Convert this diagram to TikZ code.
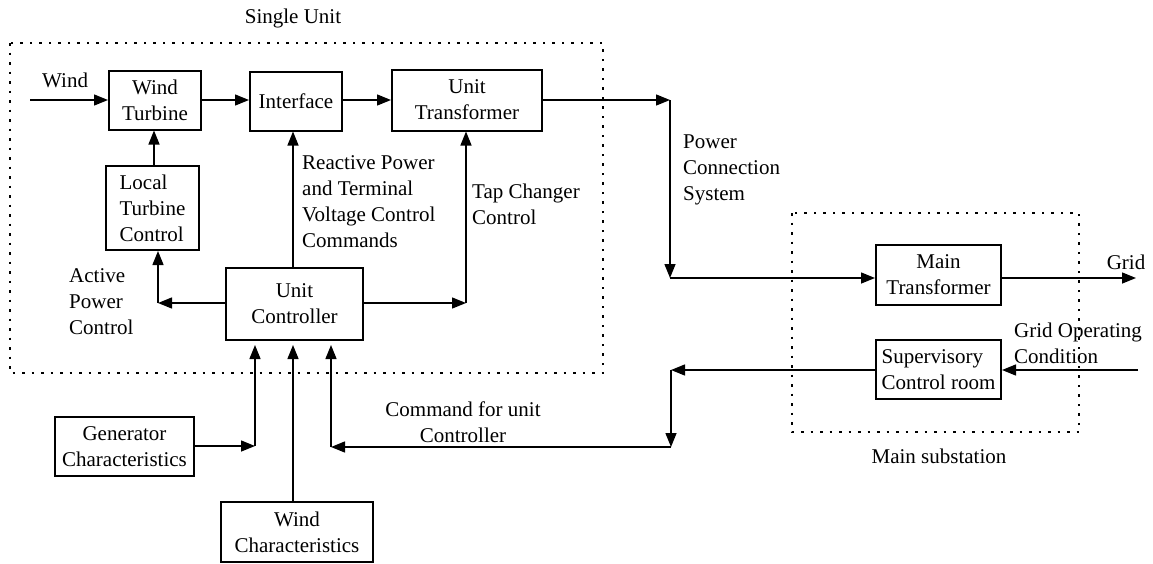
\documentclass[tikz,border=0pt]{standalone}
\usepackage{fontspec}
\setmainfont{Liberation Serif}
\usetikzlibrary{arrows.meta,calc}
\begin{document}
\begin{tikzpicture}[x=1pt,y=-1pt,
  every node/.style={font=\fontsize{21}{26}\selectfont, inner sep=0pt},
  blk/.style={draw, line width=2pt, align=center},
  lbl/.style={align=left, anchor=west},
  conn/.style={line width=1.4pt, -{Triangle[length=14pt,width=11pt]}},
  zone/.style={draw, line width=1.4pt, dash pattern=on 2.5pt off 7pt}]
\fill[white] (0,0) rectangle (1153,563);
\useasboundingbox (0,0) rectangle (1153,563);

% dotted zones
\draw[zone] (10,43) rectangle (603,373);
\draw[zone] (792,213) rectangle (1079,432);

% blocks
\node[blk, minimum width=92pt, minimum height=59pt] (WT) at (155,100) {Wind\\Turbine};
\node[blk, minimum width=92pt, minimum height=59pt] (IF) at (296,101) {Interface};
\node[blk, minimum width=150pt, minimum height=61pt] (UT) at (467,100) {Unit\\Transformer};
\node[blk, minimum width=93pt, minimum height=84pt, align=left] (LTC) at (152.5,208) {Local\\Turbine\\Control};
\node[blk, minimum width=137pt, minimum height=72pt] (UC) at (294.5,304) {Unit\\Controller};
\node[blk, minimum width=139pt, minimum height=59pt] (GC) at (124.5,446.5) {Generator\\Characteristics};
\node[blk, minimum width=152pt, minimum height=60pt] (WC) at (297,532) {Wind\\Characteristics};
\node[blk, minimum width=125pt, minimum height=60pt] (MT) at (938.5,275) {Main\\Transformer};
\node[blk, minimum width=125pt, minimum height=59pt, align=left] (SC) at (938.5,369.5) {Supervisory\\Control room};

% labels
\node (lsingle) at (293,18) {Single Unit};
\node[lbl] (lwind) at (42,80) {Wind};
\node[lbl] (lreact) at (302,202) {Reactive Power\\and Terminal\\Voltage Control\\Commands};
\node[lbl] (ltap) at (472,204) {Tap Changer\\Control};
\node[lbl] (lact) at (69,302) {Active\\Power\\Control};
\node[lbl] (lpcs) at (683,170) {Power\\Connection\\System};
\node (lgrid) at (1126,262) {Grid};
\node[lbl] (lgoc) at (1014,343) {Grid Operating\\Condition};
\node[align=center] (lcmd) at (463,422) {Command for unit\\Controller};
\node (lmain) at (939,456) {Main substation};

% coordinates
\coordinate (windin) at (30,100);
\coordinate (pc1) at (670,100);
\coordinate (pc2) at (670,278);
\coordinate (gridout) at (1136,278);
\coordinate (gridin) at (1138,370);
\coordinate (cm1) at (671,370);
\coordinate (cm2) at (671,447);
\coordinate (cm3) at (331,447);
\coordinate (u1) at (255,345);
\coordinate (u2) at (293,345);
\coordinate (u3) at (331,345);
\coordinate (g1) at (255,446);
\coordinate (a1) at (158,303);
\coordinate (t1) at (466,303);

% connectors
\draw[conn] (windin) -- (WT.west);
\draw[conn] (WT.east) -- (WT.east -| IF.west);
\draw[conn] (IF.east |- WT.east) -- (WT.east -| UT.west);
\draw[conn] (UT.east) -- (pc1);
\draw[conn] (pc1) -- (pc2);
\draw[conn] (pc2) -- (pc2 -| MT.west);
\draw[conn] (MT.east |- gridout) -- (gridout);
\draw[conn] (gridin) -- (gridin -| SC.east);
\draw[conn] (SC.west |- cm1) -- (cm1);
\draw[conn] (cm1) -- (cm2);
\draw[conn] (cm2) -- (cm3);
\draw[conn] (cm3) -- (u3);
\draw[conn] (GC.east |- g1) -- (g1);
\draw[conn] (g1) -- (u1);
\draw[conn] (WC.north -| u2) -- (u2);
\draw[conn] (UC.west |- a1) -- (a1);
\draw[conn] (a1) -- (a1 |- LTC.south);
\draw[conn] ([xshift=1.5pt]LTC.north) -- ([xshift=1.5pt]LTC.north |- WT.south);
\draw[conn] ([xshift=-1.5pt]UC.north) -- ([xshift=-1.5pt]UC.north |- IF.south);
\draw[conn] (UC.east |- t1) -- (t1);
\draw[conn] (t1) -- (t1 |- UT.south);
\end{tikzpicture}
\end{document}
